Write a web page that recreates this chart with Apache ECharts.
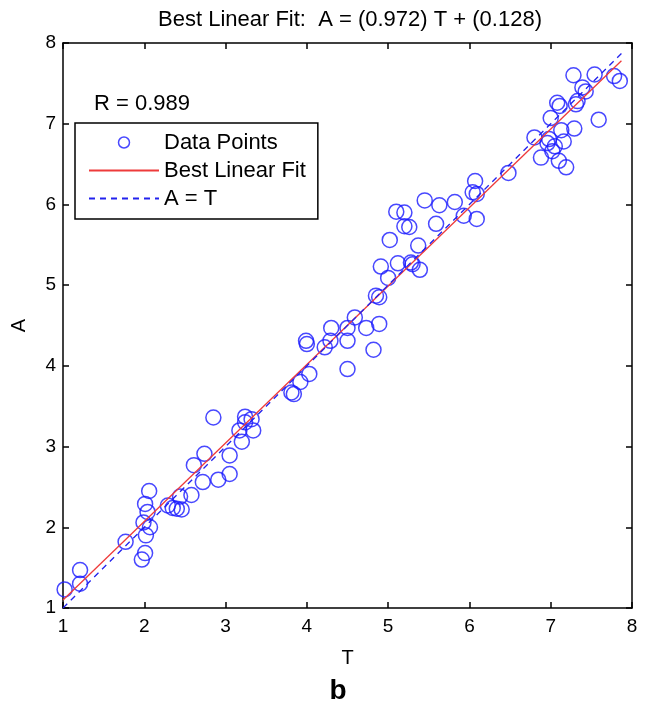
<!DOCTYPE html>
<html>
<head>
<meta charset="utf-8">
<script src="https://cdn.jsdelivr.net/npm/echarts@6/dist/echarts.min.js"></script>
<style>
  html, body { margin: 0; padding: 0; background: #fff; }
  #chart { width: 661px; height: 709px; }
</style>
</head>
<body>
<div id="chart"></div>
<script>
// target values T and network outputs A
const targetT = [
  1.02, 1.21, 1.21, 1.77, 1.97, 2.01, 2.02, 2.07, 1.99, 2.04, 2.01, 2.06,
  2.29, 2.35, 2.40, 2.46, 2.44, 2.58, 2.61, 2.74, 2.72, 2.91, 3.05, 3.05,
  2.85, 3.17, 3.20, 3.24, 3.32, 3.34, 3.24,
  3.81, 3.84, 3.92, 4.03, 3.99, 4.00, 4.22, 4.29, 4.30, 4.50, 4.50, 4.50,
  4.59, 4.73, 4.89, 4.82,
  4.85, 4.89, 5.00, 4.91, 5.02, 5.12, 5.30, 5.28, 5.39, 5.37, 5.10, 5.20,
  5.20, 5.26, 5.45, 5.59, 5.63, 5.82, 5.93, 6.09, 6.04, 6.07, 6.09, 6.48,
  6.88, 6.80, 7.10, 7.19, 7.02, 6.96, 6.98, 7.16, 7.29, 7.13, 7.00, 7.08,
  7.11, 7.31, 7.33, 7.59, 7.28, 7.54, 7.39, 7.43, 7.78, 7.85, 7.05
];
const outputA = [
  1.23, 1.47, 1.30, 1.82, 1.60, 1.68, 1.90, 2.00, 2.06, 2.19, 2.29, 2.45,
  2.27, 2.24, 2.23, 2.22, 2.38, 2.40, 2.77, 2.91, 2.56, 2.59, 2.66, 2.89,
  3.36, 3.20, 3.06, 3.37, 3.34, 3.20, 3.30,
  3.67, 3.65, 3.80, 3.90, 4.31, 4.27, 4.23, 4.31, 4.47, 4.31, 4.47, 3.96,
  4.60, 4.47, 4.52, 4.20,
  4.87, 4.85, 5.09, 5.23, 5.56, 5.27, 5.26, 5.28, 5.19, 5.49, 5.91, 5.90,
  5.73, 5.72, 6.05, 5.76, 5.99, 6.03, 5.86, 5.82, 6.15, 6.29, 6.13, 6.39,
  6.58, 6.83, 6.54, 6.46, 6.66, 6.76, 6.81, 6.78, 6.94, 6.92, 7.07, 7.26,
  7.22, 7.24, 7.28, 7.05, 7.60, 7.61, 7.45, 7.40, 7.59, 7.53, 6.72
];

// fit line A = 0.972 T + 0.128 and the A = T line, end points
const fitT = [1.0, 7.87];
const fitA = [1.10, 7.78];
const idealT = [1.0, 7.87];
const idealA = [1.0, 7.87];

const axisTicks = [1, 8, 1]; // min, max, interval

const font = "Liberation Sans, Arial, Helvetica, sans-serif";

const chart = echarts.init(document.getElementById("chart"), null, { renderer: "canvas" });

const baseAxis = {
  min: axisTicks[0],
  max: axisTicks[1],
  interval: axisTicks[2],
  axisLine: { show: true, onZero: false, lineStyle: { color: "#000", width: 1.5 } },
  axisTick: { show: true, inside: true, length: 6, lineStyle: { color: "#000", width: 1.5 } },
  splitLine: { show: false },
  axisLabel: { color: "#000", fontSize: 19, fontFamily: font },
};

const noSymbol = { color: "rgba(0,0,0,0)", borderColor: "rgba(0,0,0,0)", borderWidth: 0 };

const option = {
  animation: false,
  backgroundColor: "#fff",
  title: [
    {
      text: "Best Linear Fit:  A = (0.972) T + (0.128)",
      left: 345,
      textAlign: "center",
      top: 4,
      textStyle: { fontSize: 22, fontWeight: "normal", color: "#000", fontFamily: font },
    },
    {
      text: "R = 0.989",
      left: 89,
      top: 88,
      textStyle: { fontSize: 22, fontWeight: "normal", color: "#000", fontFamily: font },
    },
    {
      text: "b",
      left: 333,
      textAlign: "center",
      top: 672,
      textStyle: { fontSize: 28, fontWeight: "bold", color: "#000", fontFamily: font },
    },
  ],
  legend: {
    orient: "vertical",
    left: 75,
    top: 123,
    backgroundColor: "#fff",
    borderColor: "#000",
    borderWidth: 1.5,
    borderRadius: 0,
    padding: [8, 12, 9, 13],
    itemWidth: 70,
    itemHeight: 11,
    itemGap: 5,
    textStyle: { fontSize: 22, color: "#000", fontFamily: font, lineHeight: 23 },
    data: [
      {
        name: "Data Points",
        icon: "circle",
        itemStyle: { color: "rgba(0,0,0,0)", borderColor: "#1a1aff", borderWidth: 1.5 },
      },
      { name: "Best Linear Fit", itemStyle: noSymbol },
      { name: "A = T", itemStyle: noSymbol },
    ],
  },
  grid: { left: 63, right: 29, top: 43, bottom: 101 },
  xAxis: [
    Object.assign({}, baseAxis, {
      type: "value",
      position: "bottom",
      name: "T",
      nameLocation: "middle",
      nameGap: 40,
      nameTextStyle: { fontSize: 20, color: "#000", fontFamily: font },
      axisLabel: Object.assign({}, baseAxis.axisLabel, { margin: 9 }),
    }),
    Object.assign({}, baseAxis, {
      type: "value",
      position: "top",
      axisLabel: { show: false },
    }),
  ],
  yAxis: [
    Object.assign({}, baseAxis, {
      type: "value",
      position: "left",
      name: "A",
      nameLocation: "middle",
      nameGap: 34,
      nameRotate: 90,
      nameTextStyle: { fontSize: 20, color: "#000", fontFamily: font },
      axisLabel: Object.assign({}, baseAxis.axisLabel, { margin: 7 }),
    }),
    Object.assign({}, baseAxis, {
      type: "value",
      position: "right",
      axisLabel: { show: false },
    }),
  ],
  series: [
    {
      name: "Data Points",
      type: "scatter",
      symbol: "circle",
      symbolSize: 15,
      itemStyle: { color: "rgba(0,0,0,0)", borderColor: "#1a1aff", borderWidth: 1.5 },
      data: targetT.map((t, i) => [t, outputA[i]]),
      z: 2,
    },
    {
      name: "Best Linear Fit",
      type: "line",
      symbol: "none",
      lineStyle: { color: "#ee3b3b", width: 1.3 },
      data: fitT.map((t, i) => [t, fitA[i]]),
      z: 3,
    },
    {
      name: "A = T",
      type: "line",
      symbol: "none",
      lineStyle: { color: "#2222ee", width: 1.3, type: [6, 5] },
      data: idealT.map((t, i) => [t, idealA[i]]),
      z: 3,
    },
  ],
};

chart.setOption(option);
</script>
</body>
</html>
